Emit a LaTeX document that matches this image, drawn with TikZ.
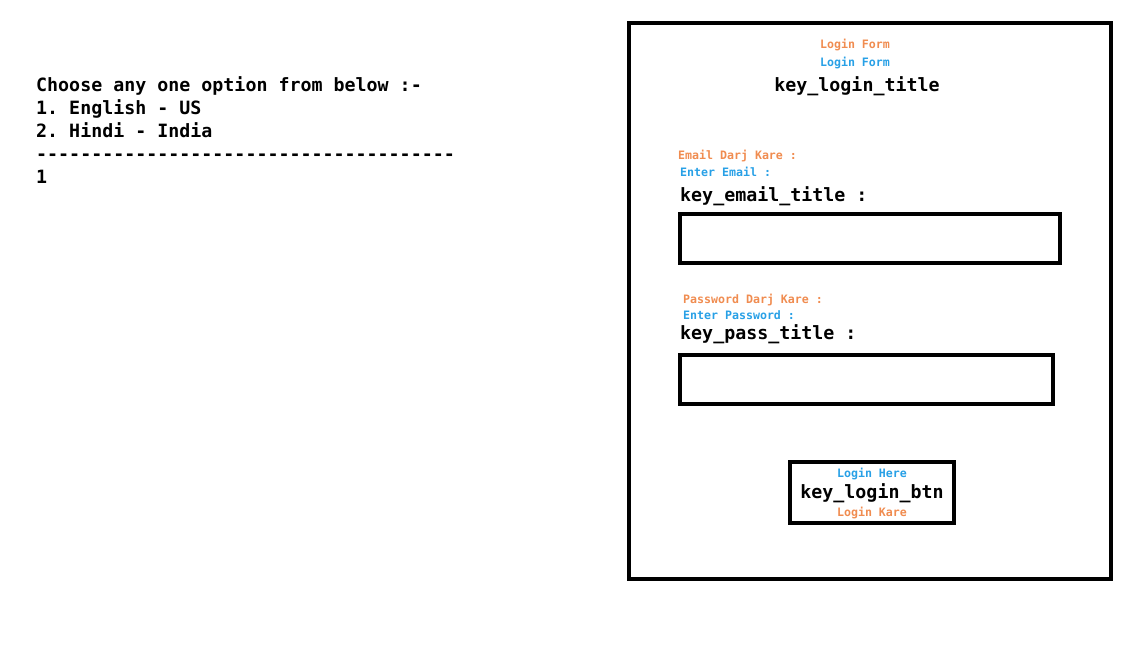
\documentclass[tikz,border=0pt]{standalone}
\usepackage{fontspec}
\usepackage{tikz}
\newfontfamily\consfont{DejaVu Sans Mono}
\definecolor{hiorange}{RGB}{240,140,80}
\definecolor{enblue}{RGB}{40,160,230}

\begin{document}
\frenchspacing
\begin{tikzpicture}[
  x=1pt,y=-1pt,
  big/.style={inner sep=0pt,text height=13.5pt,text depth=3.5pt,yshift=-1.5pt,
    font={\consfont\bfseries\fontsize{18.3}{20}\selectfont}},
  small/.style={inner sep=0pt,text height=8.5pt,text depth=2.2pt,yshift=-1pt,
    font={\consfont\bfseries\fontsize{11.6}{13}\selectfont}},
  hindi/.style={small,text=hiorange},
  english/.style={small,text=enblue},
  frame/.style={draw=black,line width=4pt},
  ]
  \useasboundingbox (0,0) rectangle (1144,658);
  % Console menu
  \node[big,anchor=west] (menu) at (36,85) {Choose any one option from below :-};
  \node[big,anchor=west] (optus) at (36,108) {1. English - US};
  \node[big,anchor=west] (optin) at (36,131) {2. Hindi - India};
  \node[big,anchor=west] (rule) at (36,154) {--------------------------------------};
  \node[big,anchor=west] (choice) at (36,177) {1};
  % Login screen
  \draw[frame] (629,23) rectangle (1111,579);
  % Title
  \node[hindi] (titlehi) at (855,44) {Login Form};
  \node[english] (titleen) at (855,62) {Login Form};
  \node[big] (title) at (857,85) {key\_login\_title};
  % Email
  \node[hindi,anchor=west] (emailhi) at (678,155) {Email Darj Kare :};
  \node[english,anchor=west] (emailen) at (680,172) {Enter Email :};
  \node[big,anchor=west] (email) at (680,195) {key\_email\_title :};
  \draw[frame] (680,214) rectangle (1060,263);
  % Password
  \node[hindi,anchor=west] (passhi) at (683,299) {Password Darj Kare :};
  \node[english,anchor=west] (passen) at (683,315) {Enter Password :};
  \node[big,anchor=west] (pass) at (680,333) {key\_pass\_title :};
  \draw[frame] (680,355) rectangle (1053,404);
  % Button
  \draw[frame] (790,462) rectangle (954,523);
  \node[english] (btnen) at (872,473) {Login Here};
  \node[big] (btn) at (872,492) {key\_login\_btn};
  \node[hindi] (btnhi) at (872,512) {Login Kare};
\end{tikzpicture}
\end{document}
